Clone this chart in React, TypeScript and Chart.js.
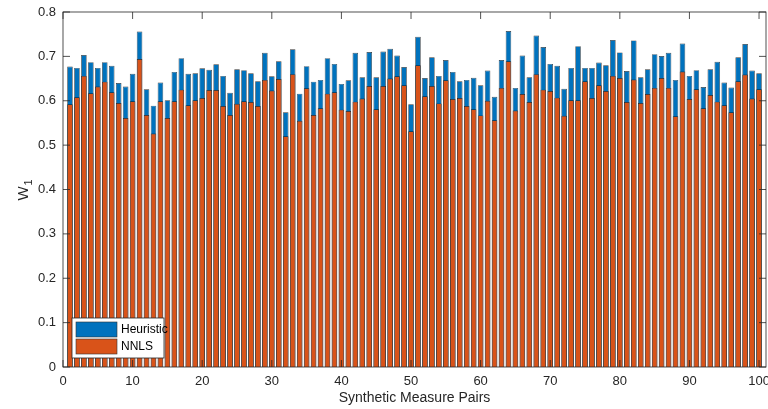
import React, { useEffect, useRef } from "react";
import { Chart, registerables } from "chart.js";

Chart.register(...registerables);

const pairIds: number[] = Array.from({ length: 100 }, (_, i) => i + 1);

const heuristic: number[] = [
  0.677, 0.674, 0.703, 0.687, 0.674, 0.687, 0.679, 0.64, 0.632, 0.661,
  0.756, 0.626, 0.589, 0.641, 0.601, 0.665, 0.696, 0.661, 0.662, 0.673,
  0.67, 0.682, 0.656, 0.618, 0.671, 0.669, 0.662, 0.644, 0.708, 0.655,
  0.689, 0.574, 0.716, 0.616, 0.678, 0.643, 0.647, 0.696, 0.683, 0.638,
  0.646, 0.708, 0.653, 0.71, 0.653, 0.711, 0.717, 0.702, 0.676, 0.592,
  0.744, 0.651, 0.698, 0.656, 0.692, 0.665, 0.644, 0.647, 0.652, 0.635,
  0.668, 0.609, 0.692, 0.757, 0.629, 0.702, 0.653, 0.747, 0.721, 0.683,
  0.679, 0.627, 0.674, 0.723, 0.674, 0.674, 0.686, 0.68, 0.737, 0.709,
  0.667, 0.736, 0.653, 0.671, 0.705, 0.701, 0.708, 0.647, 0.729, 0.656,
  0.669, 0.631, 0.671, 0.688, 0.641, 0.63, 0.698, 0.728, 0.668, 0.662,
];

const nnls: number[] = [
  0.592, 0.608, 0.656, 0.617, 0.632, 0.643, 0.619, 0.595, 0.561, 0.599,
  0.694, 0.568, 0.526, 0.599, 0.561, 0.599, 0.625, 0.59, 0.601, 0.606,
  0.624, 0.624, 0.588, 0.568, 0.593, 0.599, 0.597, 0.588, 0.647, 0.623,
  0.649, 0.52, 0.66, 0.555, 0.628, 0.568, 0.583, 0.616, 0.619, 0.58,
  0.577, 0.598, 0.605, 0.633, 0.581, 0.633, 0.65, 0.655, 0.635, 0.531,
  0.68, 0.61, 0.633, 0.594, 0.646, 0.604, 0.606, 0.588, 0.581, 0.567,
  0.6, 0.556, 0.629, 0.689, 0.578, 0.615, 0.597, 0.66, 0.625, 0.622,
  0.607, 0.566, 0.601, 0.601, 0.644, 0.606, 0.635, 0.622, 0.656, 0.651,
  0.597, 0.648, 0.595, 0.615, 0.629, 0.651, 0.629, 0.565, 0.666, 0.604,
  0.626, 0.583, 0.613, 0.598, 0.59, 0.574, 0.644, 0.659, 0.605, 0.626,
];

const xTicks: number[] = [0, 10, 20, 30, 40, 50, 60, 70, 80, 90, 100];
const yTicks: number[] = [0, 0.1, 0.2, 0.3, 0.4, 0.5, 0.6, 0.7, 0.8];
const seriesNames: string[] = ["Heuristic", "NNLS"];
const seriesColors: string[] = ["#0072BD", "#D95319"];
const xTitle = "Synthetic Measure Pairs";

const FONT = "Arial, 'Liberation Sans', Helvetica, sans-serif";
const AXIS_COLOR = "#262626";

const framePlugin = {
  id: "matlabFrame",
  afterDraw(chart: any) {
    const { ctx, chartArea } = chart;
    const { left, right, top, bottom } = chartArea;
    const xs = chart.scales.x;
    const ys = chart.scales.y;
    ctx.save();
    ctx.strokeStyle = AXIS_COLOR;
    ctx.lineWidth = 0.8;
    ctx.strokeRect(left, top, right - left, bottom - top);
    const tl = 7;
    ctx.beginPath();
    for (const v of xTicks) {
      const px = xs.getPixelForValue(v);
      ctx.moveTo(px, bottom);
      ctx.lineTo(px, bottom - tl);
      ctx.moveTo(px, top);
      ctx.lineTo(px, top + tl);
    }
    for (const v of yTicks) {
      const py = ys.getPixelForValue(v);
      ctx.moveTo(left, py);
      ctx.lineTo(left + tl, py);
      ctx.moveTo(right, py);
      ctx.lineTo(right - tl, py);
    }
    ctx.stroke();

    // x title
    ctx.fillStyle = AXIS_COLOR;
    ctx.font = `14px ${FONT}`;
    ctx.textAlign = "center";
    ctx.textBaseline = "middle";
    ctx.fillText(xTitle, (left + right) / 2, 398);

    // y title W_1 (rotated)
    ctx.save();
    ctx.translate(22, (top + bottom) / 2);
    ctx.rotate(-Math.PI / 2);
    ctx.font = `15px ${FONT}`;
    ctx.textAlign = "left";
    ctx.textBaseline = "alphabetic";
    const wW = ctx.measureText("W").width;
    ctx.fillText("W", -wW / 2 - 4, 6);
    ctx.font = `11px ${FONT}`;
    ctx.fillText("1", wW / 2 - 3, 10);
    ctx.restore();

    // legend
    const lx = left + 9;
    const lw = 92;
    const lh = 40;
    const ly = bottom - 9 - lh;
    ctx.fillStyle = "#ffffff";
    ctx.fillRect(lx, ly, lw, lh);
    ctx.strokeStyle = AXIS_COLOR;
    ctx.lineWidth = 0.8;
    ctx.strokeRect(lx, ly, lw, lh);
    ctx.font = `12px ${FONT}`;
    ctx.textAlign = "left";
    ctx.textBaseline = "middle";
    seriesNames.forEach((name, i) => {
      const sy = ly + 4 + i * 17;
      ctx.fillStyle = seriesColors[i];
      ctx.fillRect(lx + 4, sy, 41, 15);
      ctx.strokeStyle = "#333";
      ctx.lineWidth = 0.6;
      ctx.strokeRect(lx + 4, sy, 41, 15);
      ctx.fillStyle = "#000";
      ctx.fillText(name, lx + 49, sy + 8);
    });
    ctx.restore();
  },
};

export default function App() {
  const ref = useRef<HTMLCanvasElement | null>(null);
  useEffect(() => {
    document.body.style.margin = "0";
    const canvas = ref.current;
    if (!canvas) return;
    const chart = new Chart(canvas, {
      type: "bar",
      data: {
        datasets: [
          {
            label: seriesNames[0],
            data: pairIds.map((x, i) => ({ x, y: heuristic[i] })),
            backgroundColor: seriesColors[0],
            borderColor: "rgba(20,20,20,0.85)",
            borderWidth: 0.7,
            order: 2,
          },
          {
            label: seriesNames[1],
            data: pairIds.map((x, i) => ({ x, y: nnls[i] })),
            backgroundColor: seriesColors[1],
            borderColor: "rgba(20,20,20,0.85)",
            borderWidth: 0.7,
            order: 1,
          },
        ],
      } as any,
      options: {
        animation: false,
        responsive: false,
        maintainAspectRatio: false,
        layout: { padding: { top: 12, right: 2, left: 0, bottom: 0 } },
        datasets: {
          bar: { grouped: false, barPercentage: 0.8, categoryPercentage: 1 },
        } as any,
        plugins: {
          legend: { display: false },
          tooltip: { enabled: false },
          title: { display: false },
        },
        scales: {
          x: {
            type: "linear",
            min: 0,
            max: 101,
            offset: false,
            grid: { display: false, drawTicks: false },
            border: { display: false },
            afterBuildTicks: (s: any) => {
              s.ticks = xTicks.map((v) => ({ value: v }));
            },
            ticks: {
              autoSkip: false,
              maxRotation: 0,
              padding: 7,
              color: AXIS_COLOR,
              font: { family: FONT, size: 13 },
              callback: (v: any) => String(v),
            },
            afterFit: (s: any) => {
              s.height = 42;
              s.paddingLeft = 0;
              s.paddingRight = 0;
            },
          },
          y: {
            min: 0,
            max: 0.8,
            grid: { display: false, drawTicks: false },
            border: { display: false },
            afterBuildTicks: (s: any) => {
              s.ticks = yTicks.map((v) => ({ value: v }));
            },
            ticks: {
              padding: 7,
              color: AXIS_COLOR,
              font: { family: FONT, size: 13 },
              callback: (v: any) => String(Math.round(Number(v) * 10) / 10),
            },
            afterFit: (s: any) => {
              s.width = 63;
              s.paddingTop = 0;
              s.paddingBottom = 0;
            },
          },
        },
      } as any,
      plugins: [framePlugin],
    });
    return () => chart.destroy();
  }, []);
  return (
    <canvas
      ref={ref}
      width={768}
      height={409}
      style={{ display: "block", width: 768, height: 409 }}
    />
  );
}
